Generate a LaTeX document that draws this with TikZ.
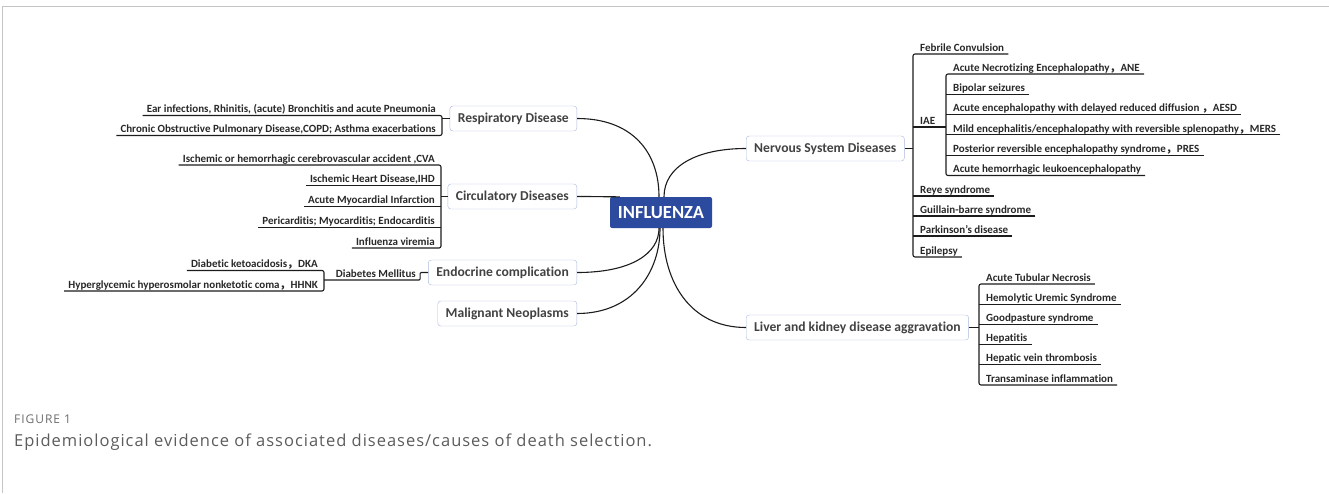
\documentclass[tikz,border=0pt]{standalone}
\usepackage{fontspec}
\setmainfont{Carlito}[Ligatures={TeX,NoCommon}]
\newfontfamily\capfont{Open Sans}
\newfontfamily\cjkfont{Noto Sans CJK SC}
\newcommand\fw{{\cjkfont ，}}
\definecolor{flublue}{RGB}{44,74,158}
\definecolor{topicline}{RGB}{172,186,222}
\definecolor{topictext}{RGB}{66,66,66}
\definecolor{leaftext}{RGB}{40,40,40}
\definecolor{linkcol}{RGB}{28,28,28}
\definecolor{framecol}{RGB}{196,196,196}
\definecolor{capgray}{RGB}{92,92,92}
\begin{document}
\begin{tikzpicture}[x=1pt,y=-1pt,
  root/.style={fill=flublue,text=white,rounded corners=2pt,minimum width=102pt,
    minimum height=31pt,font=\fontsize{18.5}{19}\selectfont\bfseries},
  topic/.style={draw=topicline,fill=white,rounded corners=3pt,minimum height=25pt,
    inner xsep=8pt,text=topictext,font=\fontsize{13.6}{14}\selectfont\bfseries},
  leaf/.style={inner xsep=4pt,inner ysep=0.7pt,text height=8pt,text depth=2pt,
    text=leaftext,font=\fontsize{11}{12}\selectfont\bfseries},
  link/.style={draw=linkcol,line width=1.1pt}]
\useasboundingbox (0,0) rectangle (1329,493);
\draw[framecol,line width=1.2pt] (2.5,493) -- (2.5,6.5) -- (1329,6.5);

% centre and main topics
\node[root] (flu) at (661,212.5) {INFLUENZA};
\node[topic,anchor=east] (resp) at (577,118.5) {Respiratory Disease};
\node[topic,anchor=east] (circ) at (577,196.5) {Circulatory Diseases};
\node[topic,anchor=east] (endo) at (577,272.5) {Endocrine complication};
\node[topic,anchor=east] (malig) at (577,313.5) {Malignant Neoplasms};
\node[topic,anchor=west] (nerv) at (746,148.5) {Nervous System Diseases};
\node[topic,anchor=west] (liver) at (746,327.5) {Liver and kidney disease aggravation};

% curved links from the centre
\draw[link] (resp.east) .. controls +(55,0) and +(0,-45) .. ([xshift=-2pt]flu.north);
\draw[link] (circ.east) .. controls +(25,0) and +(-20,0) .. ([xshift=10pt]flu.north west);
\draw[link] (nerv.west) .. controls +(-50,0) and +(0,-30) .. ([xshift=3pt]flu.north);
\draw[link] (endo.east) .. controls +(55,0) and +(0,25) .. ([xshift=-2pt]flu.south);
\draw[link] (malig.east) .. controls +(55,0) and +(0,45) .. ([xshift=-1pt]flu.south);
\draw[link] (liver.west) .. controls +(-55,0) and +(0,55) .. ([xshift=2pt]flu.south);

% respiratory
\coordinate (rb) at (442,118.5);
\foreach \txt [count=\i from 0] in {{Ear infections, Rhinitis, (acute) Bronchitis and acute Pneumonia},
    {Chronic Obstructive Pulmonary Disease,COPD; Asthma exacerbations}}
  \node[leaf,anchor=south east] (r\i) at (440,{115.5+20*\i}) {\txt};
\draw[link,rounded corners=2pt] (r0.south west) -| (rb |- r1.south) -- (r1.south west);
\draw[link] (resp.west) -- (rb);

% circulatory
\coordinate (cb) at (441,196.5);
\foreach \txt [count=\i from 0] in {{Ischemic or hemorrhagic cerebrovascular accident ,CVA\ },
    {Ischemic Heart Disease,IHD}, {Acute Myocardial Infarction},
    {Pericarditis; Myocarditis; Endocarditis}, {Influenza viremia}}
  \node[leaf,anchor=south east] (c\i) at (439,{165+20.75*\i}) {\txt};
\draw[link,rounded corners=2pt] (c0.south west) -| (cb |- c4.south) -- (c4.south west);
\foreach \i in {1,2,3}
  \draw[link] (c\i.south west) -- (c\i.south west -| cb);
\draw[link] (circ.west) -- (cb);

% endocrine
\node[leaf,anchor=south east] (dm) at (420,280) {Diabetes Mellitus};
\coordinate (db) at (324,280);
\node[leaf,anchor=south east] (d0) at (322,270.5) {Diabetic ketoacidosis\fw DKA};
\node[leaf,anchor=south east] (d1) at (322,291) {Hyperglycemic hyperosmolar nonketotic coma\fw HHNK};
\draw[link,rounded corners=2pt] (d0.south west) -| (db |- d1.south) -- (d1.south west);
\draw[link,rounded corners=1pt] (endo.west) -- ++(-8,0) |- (db);

% nervous system
\coordinate (nb) at (913,148.5);
\node[leaf,anchor=south west] (feb) at (916,54) {Febrile Convulsion};
\node[leaf,anchor=south west] (iae) at (916,127) {IAE};
\node[leaf,anchor=south west] (reye) at (916,196) {Reye syndrome};
\node[leaf,anchor=south west] (gbs) at (916,216) {Guillain-barre syndrome};
\node[leaf,anchor=south west] (park) at (916,236) {Parkinson's disease};
\node[leaf,anchor=south west] (epi) at (916,257) {Epilepsy};
\draw[link,rounded corners=2pt] (feb.south east) -| (nb |- epi.south) -- (epi.south east);
\foreach \n in {reye,gbs,park}
  \draw[link] (\n.south east) -- (\n.south east -| nb);
\draw[link] (nerv.east) -- (nb);

% IAE subtypes
\coordinate (ib) at (946,127);
\foreach \txt [count=\i from 0] in {{Acute Necrotizing Encephalopathy\fw ANE},
    {Bipolar seizures}, {Acute encephalopathy with delayed reduced diffusion \fw AESD},
    {Mild encephalitis/encephalopathy with reversible splenopathy\fw MERS},
    {Posterior reversible encephalopathy syndrome\fw PRES},
    {Acute hemorrhagic leukoencephalopathy}}
  \node[leaf,anchor=south west] (a\i) at (949,{74+20.3*\i}) {\txt};
\draw[link,rounded corners=2pt] (a0.south east) -| (ib |- a5.south) -- (a5.south east);
\foreach \i in {1,...,4}
  \draw[link] (a\i.south east) -- (a\i.south east -| ib);
\draw[link] (iae.south east -| nb) -- (ib);

% liver and kidney
\coordinate (lb) at (979,327.5);
\foreach \txt [count=\i from 0] in {{Acute Tubular Necrosis}, {Hemolytic Uremic Syndrome},
    {Goodpasture syndrome}, {Hepatitis}, {Hepatic vein thrombosis},
    {Transaminase inflammation}}
  \node[leaf,anchor=south west] (l\i) at (982,{284+20.2*\i}) {\txt};
\draw[link,rounded corners=2pt] (l0.south east) -| (lb |- l5.south) -- (l5.south east);
\foreach \i in {1,...,4}
  \draw[link] (l\i.south east) -- (l\i.south east -| lb);
\draw[link] (liver.east) -- (lb);

% caption
\node[anchor=base west,inner sep=0pt,text=capgray!90,
  font=\capfont\addfontfeature{LetterSpace=8}\fontsize{12}{13}\selectfont] (fig) at (14,423) {FIGURE 1};
\node[anchor=base west,inner sep=0pt,text=capgray,
  font=\capfont\addfontfeature{LetterSpace=6}\fontsize{16.5}{18}\selectfont] (cap) at (14,446)
  {Epidemiological evidence of associated diseases/causes of death selection.};
\end{tikzpicture}
\end{document}
